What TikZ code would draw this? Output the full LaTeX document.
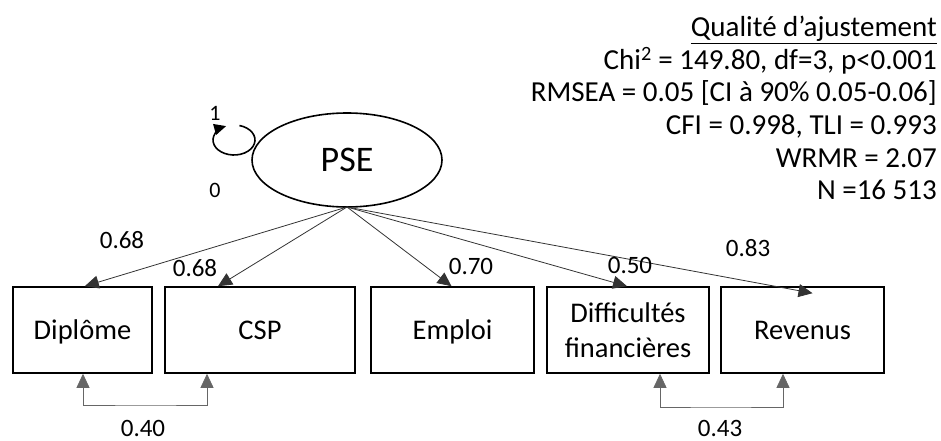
\documentclass[tikz,border=0pt]{standalone}
\usepackage{fontspec}
\setmainfont{Carlito}
\usetikzlibrary{arrows.meta,shapes.geometric}
\tikzset{
  obsbox/.style={draw, line width=1.6pt, minimum width=#1, minimum height=86pt, inner sep=0pt, font=\fontsize{28.5}{35}\selectfont, align=center},
  oneline/.style={text height=18.3pt, text depth=0pt},
  tip/.style={-{Triangle[length=14pt,width=13pt]}},
  load/.style={draw=black!80, line width=0.8pt, tip},
  cov/.style={draw=black!60, line width=0.8pt, {Triangle[length=14pt,width=13pt]}-{Triangle[length=14pt,width=13pt]}},
  num/.style={font=\fontsize{25}{30}\selectfont, inner sep=0pt},
  stat/.style={font=\fontsize{29}{32}\selectfont, anchor=base east, inner sep=0pt},
}
\begin{document}
\begin{tikzpicture}[x=1pt,y=-1pt]
\useasboundingbox (0,0) rectangle (941,441);
% latent
\node[ellipse, draw, line width=1.6pt, minimum width=190pt, minimum height=94pt, inner sep=0pt, font=\fontsize{36}{40}\selectfont, text height=23pt, text depth=0pt] (pse) at (347,160) {PSE};
\coordinate (src) at (347,207);
% loop
\coordinate (lc) at (234,140);
\draw[line width=1.6pt, -{Triangle[length=12pt,width=11pt]}] ([shift={(75:21pt and 15pt)}]lc) arc[start angle=75, end angle=-248, x radius=21pt, y radius=15pt];
\node[num, font=\fontsize{22}{26}\selectfont] (one) at (215,113) {1};
\node[num, font=\fontsize{22}{26}\selectfont] (zero) at (215,190) {0};
% observed
\node[obsbox=139pt, oneline] (dip) at (82.5,330) {Diplôme};
\node[obsbox=190pt, oneline] (csp) at (260,330) {CSP};
\node[obsbox=163pt, oneline] (emp) at (452.5,330) {Emploi};
\node[obsbox=162pt] (dif) at (628,330) {Difficultés\\financières};
\node[obsbox=163pt, oneline] (rev) at (802.5,330) {Revenus};
% loadings
\draw[load] (src) -- ([xshift=-68pt]dip.north east);
\draw[load] (src) -- ([xshift=-42pt]csp.north);
\draw[load] (src) -- ([xshift=-1pt]emp.north);
\draw[load] (src) -- ([xshift=-1pt]dif.north);
\draw[load] (src) -- ([xshift=10pt,yshift=-7pt]rev.north);
\node[num] (l1) at (122,240) {0.68};
\node[num] (l2) at (195,268) {0.68};
\node[num] (l3) at (471,266) {0.70};
\node[num] (l4) at (630,265) {0.50};
\node[num] (l5) at (748,248) {0.83};
% covariances
\draw[cov] ([xshift=0.5pt]dip.south) |- (146,405) -| ([xshift=-53pt]csp.south);
\draw[cov] ([xshift=32pt]dif.south) |- (720,407) -| ([xshift=-19.5pt]rev.south);
\node[num] (c1) at (143,428) {0.40};
\node[num] (c2) at (720,428) {0.43};
% fit statistics
\node[stat] (q) at (937,37) {\underline{Qualité d’ajustement}};
\node[stat] (s1) at (937,69.5) {Chi\textsuperscript{2} = 149.80, df=3, p<0.001};
\node[stat] (s2) at (937,102) {RMSEA = 0.05 [CI à 90\% 0.05-0.06]};
\node[stat] (s3) at (937,134.5) {CFI = 0.998, TLI = 0.993};
\node[stat] (s4) at (937,167) {WRMR = 2.07};
\node[stat] (s5) at (937,199.5) {N =16 513};
\end{tikzpicture}
\end{document}
